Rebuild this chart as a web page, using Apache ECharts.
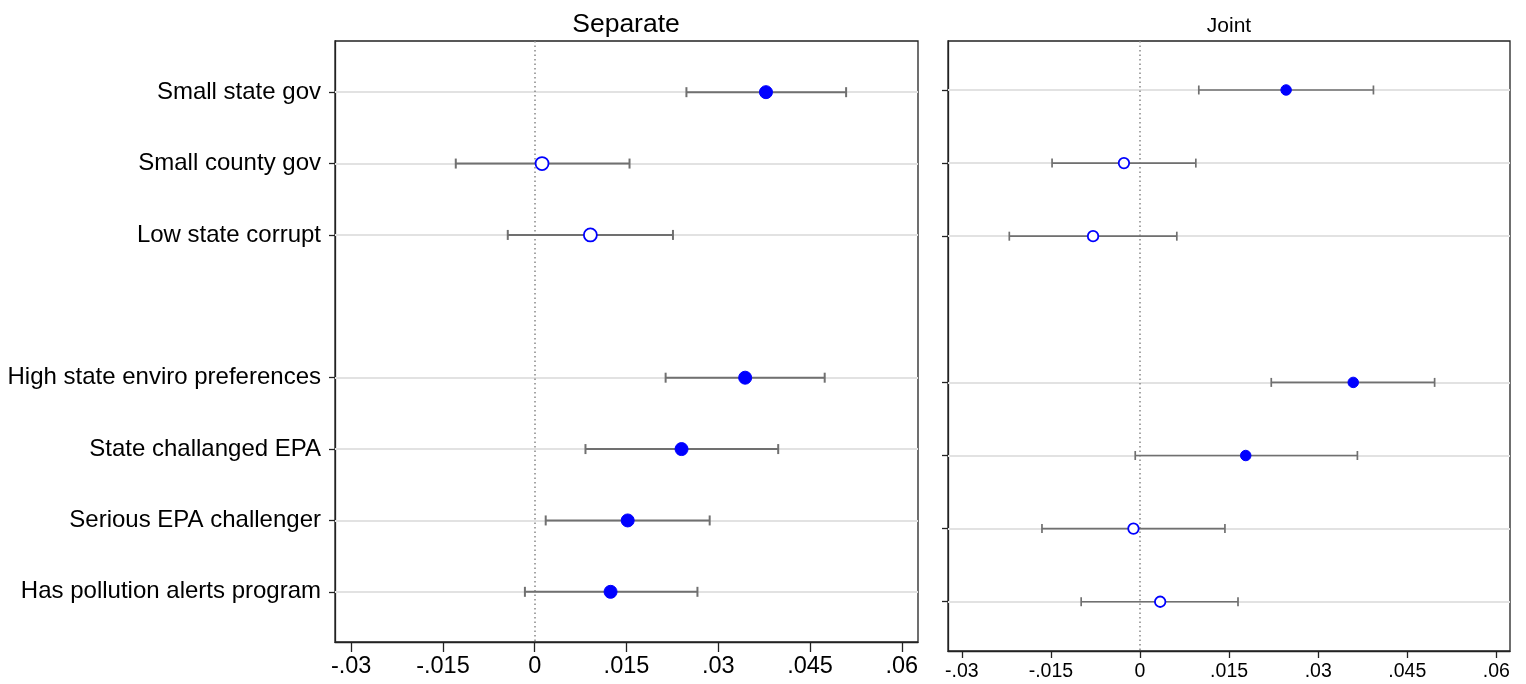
<!DOCTYPE html>
<html lang="en">
<head>
    <meta charset="UTF-8">
    <title>Separate vs Joint</title>
    <script src="https://cdn.jsdelivr.net/npm/echarts@6/dist/echarts.min.js"></script>
    <style>
        html, body { margin: 0; padding: 0; background: #fff; }
        #chart { width: 1526px; height: 684px; }
    </style>
</head>
<body>
    <div id="chart"></div>
    <script>
        // row labels (empty string = spacer row between the two blocks)
        const labels = ['Small state gov', 'Small county gov', 'Low state corrupt', '',
            'High state enviro preferences', 'State challanged EPA', 'Serious EPA challenger', 'Has pollution alerts program'];

        // Separate models
        const sepEst = [0.0378, 0.0012, 0.0091, null, 0.0344, 0.0240, 0.0152, 0.0124];
        const sepLo  = [0.0248, -0.0129, -0.0044, null, 0.0214, 0.0083, 0.0018, -0.0016];
        const sepHi  = [0.0509, 0.0155, 0.0226, null, 0.0474, 0.0398, 0.0286, 0.0266];
        const sepSig = [true, false, false, null, true, true, true, true];

        // Joint model
        const jntEst = [0.0246, -0.0027, -0.0079, null, 0.0359, 0.0178, -0.0011, 0.0034];
        const jntLo  = [0.0099, -0.0148, -0.0220, null, 0.0221, -0.0008, -0.0165, -0.0099];
        const jntHi  = [0.0393, 0.0094, 0.0062, null, 0.0496, 0.0366, 0.0143, 0.0165];
        const jntSig = [true, false, false, null, true, true, false, false];

        // x axis ticks
        const xTicks = [-0.03, -0.015, 0, 0.015, 0.03, 0.045, 0.06];
        const xTickLabels = ['-.03', '-.015', '0', '.015', '.03', '.045', '.06'];

        const FONT = "'Liberation Sans', Arial, sans-serif";
        const rows = labels.map((l, i) => i + 1).filter((r, i) => labels[i] !== '');

        const chart = echarts.init(document.getElementById('chart'));

        function xFmt(v) {
            const i = xTicks.findIndex(t => Math.abs(t - v) < 1e-9);
            return i >= 0 ? xTickLabels[i] : '';
        }

        function makeAxes(idx, opt) {
            const xAxis = {
                gridIndex: idx, type: 'value', min: opt.xmin, max: opt.xmax,
                axisLine: { show: true, onZero: false, lineStyle: { color: '#222', width: 1.3 } },
                axisTick: { show: true, inside: false, customValues: xTicks, length: opt.tickLen, lineStyle: { color: '#222', width: 1.3 } },
                axisLabel: { customValues: xTicks, formatter: xFmt, fontSize: opt.tickFont, color: '#000', fontFamily: FONT, margin: opt.xMargin },
                splitLine: { show: false }
            };
            const yAxis = {
                gridIndex: idx, type: 'value', inverse: true, min: opt.ymin, max: opt.ymax,
                axisLine: { show: true, onZero: false, lineStyle: { color: '#222', width: 1.3 } },
                axisTick: { show: true, inside: false, customValues: rows, length: 6, lineStyle: { color: '#222', width: 1.3 } },
                axisLabel: {
                    show: opt.showLabels, customValues: rows, fontSize: 24, color: '#000', fontFamily: FONT, margin: 14,
                    formatter: v => labels[Math.round(v) - 1] || ''
                },
                splitLine: { show: false }
            };
            return { xAxis, yAxis };
        }

        function makeSeries(idx, est, lo, hi, sig, opt) {
            const barData = [];
            const pts = [];
            est.forEach((e, i) => {
                if (e === null) return;
                barData.push([lo[i], hi[i], i + 1]);
                pts.push({
                    value: [e, i + 1],
                    itemStyle: sig[i]
                        ? { color: '#0000ff', borderColor: '#0000ff', borderWidth: 1, opacity: 1 }
                        : { color: '#ffffff', borderColor: '#0000ff', borderWidth: 1.8, opacity: 1 }
                });
            });
            const cap = opt.cap;
            return [
                {
                    type: 'custom', xAxisIndex: idx, yAxisIndex: idx, data: barData, z: 3,
                    renderItem: function (params, api) {
                        const a = api.coord([api.value(0), api.value(2)]);
                        const b = api.coord([api.value(1), api.value(2)]);
                        const st = { stroke: '#707070', lineWidth: opt.barW };
                        return {
                            type: 'group', children: [
                                { type: 'line', shape: { x1: a[0], y1: a[1], x2: b[0], y2: b[1] }, style: st },
                                { type: 'line', shape: { x1: a[0], y1: a[1] - cap, x2: a[0], y2: a[1] + cap }, style: st },
                                { type: 'line', shape: { x1: b[0], y1: b[1] - cap, x2: b[0], y2: b[1] + cap }, style: st }
                            ]
                        };
                    },
                    markLine: {
                        silent: true, symbol: 'none', label: { show: false }, z: 1,
                        data: rows.map(r => ({ yAxis: r, lineStyle: { color: '#e2e2e2', width: 2, type: 'solid' } }))
                            .concat([{ xAxis: 0, lineStyle: { color: '#888', width: 1.5, type: [1.5, 3] } }])
                    }
                },
                {
                    type: 'scatter', xAxisIndex: idx, yAxisIndex: idx, symbol: 'circle',
                    symbolSize: opt.dot, data: pts, z: 5, itemStyle: { opacity: 1 }
                }
            ];
        }

        const leftOpt = { xmin: -0.03264, xmax: 0.06265, ymin: 0.283, ymax: 8.703, tickLen: 10, tickFont: 23.5, xMargin: 13, showLabels: true, cap: 5, barW: 2, dot: 13 };
        const rightOpt = { xmin: -0.03232, xmax: 0.06229, ymin: 0.330, ymax: 8.674, tickLen: 7, tickFont: 19.5, xMargin: 11, showLabels: false, cap: 4.5, barW: 1.7, dot: 10.5 };

        const A = makeAxes(0, leftOpt);
        const B = makeAxes(1, rightOpt);

        const option = {
            animation: false,
            graphic: [
                { type: 'text', x: 626, y: 11, style: { text: 'Separate', font: '26.5px ' + FONT, fill: '#000', textAlign: 'center' } },
                { type: 'text', x: 1229, y: 16, style: { text: 'Joint', font: '21px ' + FONT, fill: '#000', textAlign: 'center' } }
            ],
            grid: [
                { left: 335, top: 41, width: 583, height: 601, show: true, borderColor: '#222', borderWidth: 1.3, backgroundColor: '#fff' },
                { left: 948, top: 41, width: 562, height: 610, show: true, borderColor: '#222', borderWidth: 1.3, backgroundColor: '#fff' }
            ],
            xAxis: [A.xAxis, B.xAxis],
            yAxis: [A.yAxis, B.yAxis],
            series: makeSeries(0, sepEst, sepLo, sepHi, sepSig, leftOpt)
                .concat(makeSeries(1, jntEst, jntLo, jntHi, jntSig, rightOpt))
        };

        chart.setOption(option);
    </script>
</body>
</html>
